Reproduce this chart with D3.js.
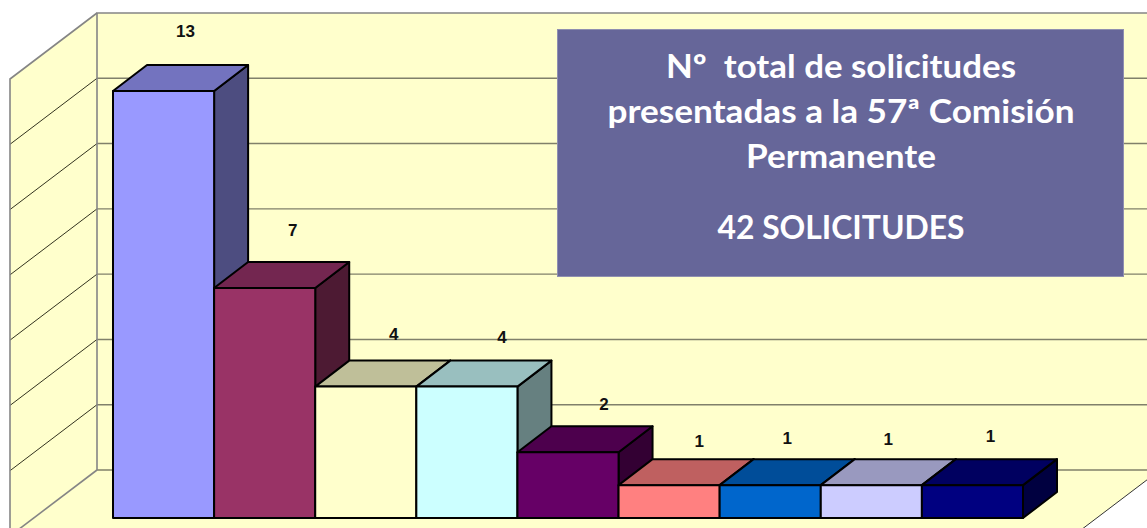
<!DOCTYPE html>
<html><head><meta charset="utf-8">
<style>html,body{margin:0;padding:0;background:#fff}svg{display:block}</style>
<script src="https://cdn.jsdelivr.net/npm/d3@7/dist/d3.min.js"></script>
</head><body><svg id="c" width="1147" height="528"></svg>
<script>
const categories = ["1","2","3","4","5","6","7","8","9"];
const values = [13,7,4,4,2,1,1,1,1];
const frontColors = ["#9999ff","#993366","#ffffcc","#ccffff","#660066","#ff8080","#0066cc","#ccccff","#000080"];
const topColors = ["#7373bf","#732650","#bfbf99","#99bfbf","#4d004d","#bf6060","#004d99","#9999bf","#000060"];
const sideColors = ["#4d4d80","#4d1a33","#808066","#668080","#330033","#804040","#003366","#666680","#000040"];
const gridTicks = [0,2,4,6,8,10,12,14];
const labelNudgeX = [22,28,28,35,36,30,17,17,18];
const labelNudgeY = [0,2,7,10,12,16,13,14,11];
const titleLines = ["Nº  total de solicitudes","presentadas a la 57ª Comisión","Permanente","42 SOLICITUDES"];
const titleWidths = [350,467,190,247];

const svg = d3.select("#c");
const x = d3.scaleBand().domain(categories).range([113,1023]).padding(0);
const y = d3.scaleLinear().domain([0,13]).range([518,91]);
const yBack = d3.scaleLinear().domain([0,14]).range([470,13]);
const barDx = 34, barDy = -26, wallDx = 87, wallDy = 66, backX = 97, rightX = 1160;
const pts = a => a.map(p => p.join(",")).join(" ");

svg.append("polygon")
  .attr("points", pts([[backX-wallDx,yBack(14)+wallDy],[backX,yBack(14)],[rightX,yBack(14)],[rightX,yBack(0)],[rightX-wallDx,yBack(0)+wallDy],[backX-wallDx,yBack(0)+wallDy]]))
  .attr("fill","#ffffcc");
svg.append("g").selectAll("line").data(gridTicks.slice(0,-1)).join("line")
  .attr("x1",backX).attr("x2",rightX).attr("y1",d=>yBack(d)).attr("y2",d=>yBack(d))
  .attr("stroke","#80806a").attr("stroke-width",1.4);
svg.append("g").selectAll("line").data(gridTicks.slice(1,-1)).join("line")
  .attr("x1",backX-wallDx).attr("x2",backX).attr("y1",d=>yBack(d)+wallDy).attr("y2",d=>yBack(d))
  .attr("stroke","#33331f").attr("stroke-width",1);
const wallLine = a => svg.append("polyline").attr("points",pts(a)).attr("fill","none").attr("stroke","#858585").attr("stroke-width",1.6);
wallLine([[rightX,yBack(14)],[backX,yBack(14)],[backX,yBack(0)]]);
wallLine([[backX-wallDx,yBack(0)+wallDy],[backX-wallDx,yBack(14)+wallDy],[backX,yBack(14)]]);
wallLine([[backX,yBack(0)],[backX-wallDx,yBack(0)+wallDy]]);
svg.append("line").attr("x1",rightX).attr("y1",yBack(0)).attr("x2",rightX-wallDx).attr("y2",yBack(0)+wallDy).attr("stroke","#333").attr("stroke-width",1);

const bars = svg.append("g").selectAll("g").data(values).join("g")
  .attr("stroke","#000").attr("stroke-width",2).attr("stroke-linejoin","round");
const x0 = (d,i) => x(categories[i]);
const x1 = (d,i) => x(categories[i]) + x.bandwidth();
bars.append("polygon").attr("fill",(d,i)=>sideColors[i])
  .attr("points",(d,i)=>pts([[x1(d,i),y(d)],[x1(d,i)+barDx,y(d)+barDy],[x1(d,i)+barDx,y(0)+barDy],[x1(d,i),y(0)]]));
bars.append("polygon").attr("fill",(d,i)=>topColors[i])
  .attr("points",(d,i)=>pts([[x0(d,i),y(d)],[x0(d,i)+barDx,y(d)+barDy],[x1(d,i)+barDx,y(d)+barDy],[x1(d,i),y(d)]]));
bars.append("rect").attr("fill",(d,i)=>frontColors[i])
  .attr("x",(d,i)=>x0(d,i)).attr("y",d=>y(d)).attr("width",x.bandwidth()).attr("height",d=>y(0)-y(d));

svg.append("g").selectAll("text").data(values).join("text")
  .attr("x",(d,i)=>x0(d,i)+x.bandwidth()/2+labelNudgeX[i])
  .attr("y",(d,i)=>y(d)+barDy-28+labelNudgeY[i])
  .attr("text-anchor","middle")
  .attr("font-family","'Liberation Sans',Arial,sans-serif").attr("font-weight","bold").attr("font-size",17).attr("fill","#111")
  .text(d=>d);

svg.append("rect").attr("x",557.5).attr("y",29.5).attr("width",566).attr("height",247)
  .attr("fill","#666699").attr("stroke","#8f8fb0").attr("stroke-width",1);
const baselines = [78,123,168,239];
svg.append("g").selectAll("text").data(titleLines).join("text")
  .attr("x",841).attr("y",(d,i)=>baselines[i]).attr("text-anchor","middle")
  .attr("textLength",(d,i)=>titleWidths[i]).attr("lengthAdjust","spacingAndGlyphs")
  .style("white-space","pre")
  .attr("font-family","Lato,sans-serif").attr("font-weight","bold").attr("font-size",33).attr("fill","#fff")
  .text(d=>d);
</script></body></html>
